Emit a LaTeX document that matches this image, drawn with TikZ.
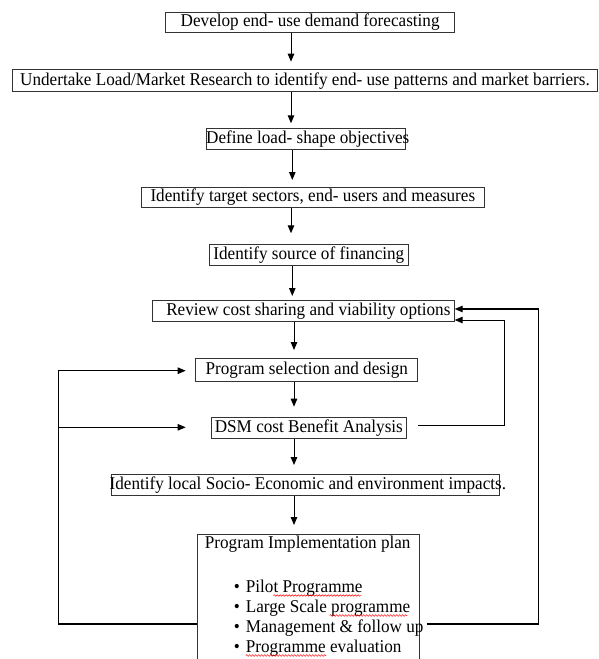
\documentclass[tikz,border=0pt]{standalone}
\usepackage{fontspec}
\setmainfont{Liberation Serif}[FakeStretch=0.952]
\usetikzlibrary{arrows.meta,decorations.pathmorphing}
\begin{document}
\begin{tikzpicture}[x=1pt,y=-1pt,
  bx/.style={draw=black!80, line width=1pt, inner sep=0pt, anchor=north west, font=\fontsize{18}{21}\selectfont},
  arr/.style={-{Triangle[length=8pt,width=6.5pt]}, line width=1pt},
  fb/.style={line width=1.6pt},
  txt/.style={inner sep=0pt, font=\fontsize{18}{21}\selectfont},
  squig/.style={red, line width=0.5pt, decorate, decoration={snake, amplitude=0.8pt, segment length=3pt}}]
\path[use as bounding box] (0,0) rectangle (598,659);
\clip (0,0) rectangle (598,659);

\node[bx, minimum width=288.7pt, minimum height=20.6pt] (b1) at (165.3,11.7) {\makebox[288.7pt]{Develop end- use demand forecasting}};
\node[bx, minimum width=585pt, minimum height=22pt] (b2) at (12,69.3) {\makebox[585pt]{Undertake Load/Market Research to identify end- use patterns and market barriers.}};
\node[bx, minimum width=199pt, minimum height=21.3pt] (b3) at (206.3,127.7) {\makebox[199pt]{\hspace{3pt}Define load- shape objectives}};
\node[bx, minimum width=342.7pt, minimum height=20pt] (b4) at (141,186.7) {\makebox[342.7pt]{Identify target sectors, end- users and measures}};
\node[bx, minimum width=199.3pt, minimum height=20.7pt] (b5) at (208.7,244.3) {\makebox[199.3pt]{Identify source of financing}};
\node[bx, minimum width=301.7pt, minimum height=20.7pt] (b6) at (152,300) {\makebox[301.7pt]{\hspace{10pt}Review cost sharing and viability options}};
\node[bx, minimum width=222pt, minimum height=23.3pt] (b7) at (195.3,357.7) {\makebox[222pt]{Program selection and design}};
\node[bx, minimum width=194.7pt, minimum height=21.5pt] (b8) at (211,416.7) {\makebox[194.7pt]{DSM cost Benefit Analysis}};
\node[bx, minimum width=387.7pt, minimum height=21.6pt] (b9) at (111,473.7) {\makebox[387.7pt]{\hspace{5pt}Identify local Socio- Economic and environment impacts.}};
\node[bx, minimum width=222pt, minimum height=135pt] (b10) at (196.7,534.3) {};

\node[txt] (t10) at (307.7,544) {Program Implementation plan};
\node[txt, anchor=west] (i1) at (233.7,588.3) {\makebox[12pt][l]{\textbullet}Pilot Programme};
\node[txt, anchor=west] (i2) at (233.7,608.3) {\makebox[12pt][l]{\textbullet}Large Scale programme};
\node[txt, anchor=west] (i3) at (233.7,628.3) {\makebox[12pt][l]{\textbullet}Management \& follow up};
\node[txt, anchor=west] (i4) at (233.7,648.3) {\makebox[12pt][l]{\textbullet}Programme evaluation};

\draw[squig] (273.3,595.5) -- (361.3,595.5);
\draw[squig] (329.7,615.5) -- (407.3,615.5);
\draw[squig] (245.7,655.5) -- (326,655.5);

\coordinate (axA) at (291,0);
\coordinate (axB) at (292.3,0);
\coordinate (axC) at (294,0);
\draw[arr, shorten >=7.6pt] (b1.south -| axA) -- (b2.north -| axA);
\draw[arr, shorten >=4.4pt] (b2.south -| axA) -- (b3.north -| axA);
\draw[arr, shorten >=6.7pt] (b3.south -| axB) -- (b4.north -| axB);
\draw[arr, shorten >=11pt] (b4.south -| axA) -- (b5.north -| axA);
\draw[arr, shorten >=4pt] (b5.south -| axB) -- (b6.north -| axB);
\draw[arr, shorten >=7.7pt] (b6.south -| axC) -- (b7.north -| axC);
\draw[arr, shorten >=10pt] (b7.south -| axC) -- (b8.north -| axC);
\draw[arr, shorten >=8.7pt] (b8.south -| axC) -- (b9.north -| axC);
\draw[arr, shorten >=9.3pt] (b9.south -| axC) -- (b10.north -| axC);

\coordinate (lt) at (58.3,370.7);
\coordinate (lm) at (58.3,427.3);
\coordinate (lb) at (58.3,624);
\draw[fb] (b10.west |- lb) -- (lb) -- (lt);
\draw[arr] (lt) -- ([xshift=-9.6pt]b7.west |- lt);
\draw[arr] (lm) -- ([xshift=-25.3pt]b8.west |- lm);

\coordinate (ro) at (538.3,309);
\coordinate (rob) at (538.3,624);
\draw[arr, line width=1.2pt] ([xshift=7pt]b10.east |- rob) -- (rob) -- (ro) -- (b6.east |- ro);
\coordinate (ri) at (504.3,320);
\coordinate (rib) at (504.3,425.3);
\draw[arr] ([xshift=11.3pt]b8.east |- rib) -- (rib) -- (ri) -- (b6.east |- ri);
\end{tikzpicture}
\end{document}
